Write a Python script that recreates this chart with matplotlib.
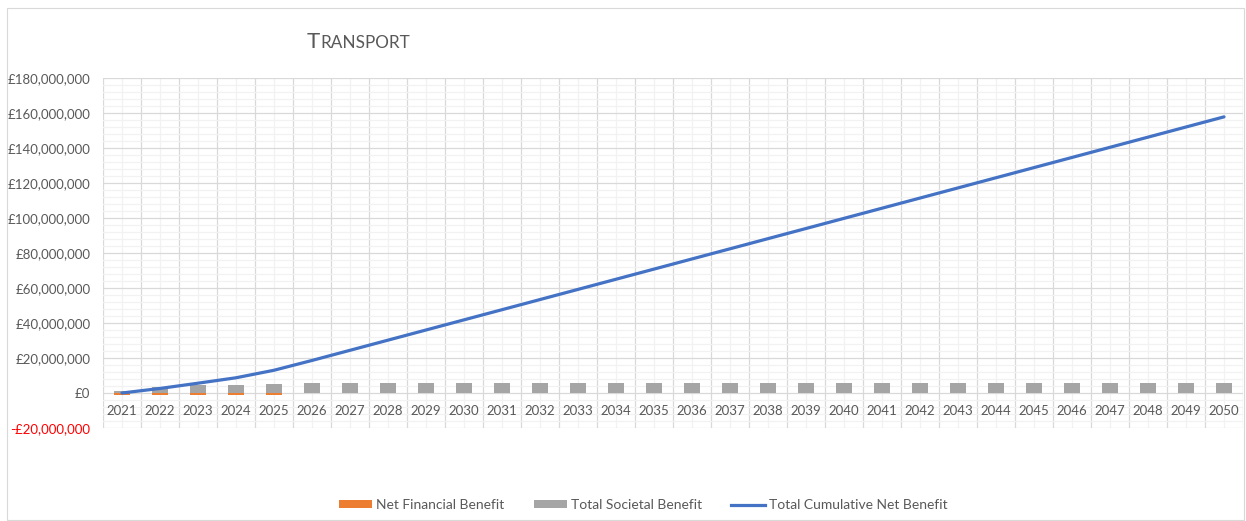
import matplotlib
matplotlib.use("Agg")
import matplotlib.pyplot as plt
from matplotlib.patches import Patch, Rectangle
from matplotlib.lines import Line2D
from matplotlib.ticker import FuncFormatter, MultipleLocator, FixedLocator

plt.rcParams['font.family'] = ['Lato', 'DejaVu Sans']

years = [str(y) for y in range(2021, 2051)]
net_financial = [-1.2e6, -1.2e6, -1.2e6, -1.2e6, -1.2e6] + [0.0] * 25
total_societal = [1.0e6, 3.2e6, 4.6e6, 4.4e6, 5.3e6] + [5.5e6] * 25
cumulative = [0.0, 2.6e6, 5.6e6, 8.7e6, 13.0e6,
              18.6e6, 24.4e6, 30.2e6, 36.0e6, 41.8e6,
              47.6e6, 53.4e6, 59.2e6, 65.0e6, 70.8e6,
              76.6e6, 82.4e6, 88.2e6, 94.0e6, 99.8e6,
              105.6e6, 111.4e6, 117.2e6, 123.0e6, 128.8e6,
              134.6e6, 140.4e6, 146.2e6, 152.0e6, 157.8e6]
series_names = ["Net Financial Benefit", "Total Societal Benefit", "Total Cumulative Net Benefit"]
title_text = "Transport"

ORANGE = "#ED7D31"
GREY = "#A5A5A5"
BLUE = "#4472C4"
TXT = "#595959"
W, H = 1246, 521

fig = plt.figure(figsize=(W / 100, H / 100), dpi=100)
fig.patch.set_facecolor("white")
fig.add_artist(Rectangle((7 / W, 1 / H), 1237 / W, 512 / H, transform=fig.transFigure,
                         fill=False, edgecolor="#D9D9D9", linewidth=0.8))

ax = fig.add_axes([103 / W, 1 - 428 / H, 1140 / W, 350 / H])
x = list(range(len(years)))

ax.bar(x, net_financial, width=0.4, color=ORANGE, zorder=3)
ax.bar(x, total_societal, width=0.4, color=GREY, zorder=3)
ax.plot(x, cumulative, color=BLUE, linewidth=2.3, solid_capstyle='round', zorder=4)

ax.set_xlim(-0.5, len(years) - 0.5)
ax.set_ylim(-20e6, 180e6)

ax.xaxis.set_major_locator(FixedLocator([i - 0.5 for i in range(len(years) + 1)]))
ax.xaxis.set_minor_locator(FixedLocator(x))
ax.set_xticklabels([])
ax.yaxis.set_major_locator(MultipleLocator(20e6))
ax.yaxis.set_minor_locator(MultipleLocator(4e6))

def fmt(v, pos):
    v = int(round(v))
    if v < 0:
        return "-£{:,}".format(-v)
    return "£{:,}".format(v)

ax.yaxis.set_major_formatter(FuncFormatter(fmt))
ax.tick_params(axis='both', which='both', length=0)
ax.tick_params(axis='y', labelsize=9.5, labelcolor=TXT, pad=9)
fig.canvas.draw()
for lab in ax.get_yticklabels():
    if lab.get_text().startswith("-"):
        lab.set_color("#FF0000")

ax.grid(True, which='major', color="#D9D9D9", linewidth=0.9)
ax.grid(True, which='minor', color="#F2F2F2", linewidth=0.9)
ax.set_axisbelow(True)
for s in ax.spines.values():
    s.set_visible(False)

for i, y in enumerate(years):
    ax.annotate(y, xy=(i, 0), xytext=(0, -8.5), textcoords='offset points',
                ha='center', va='top', fontsize=9.5, color=TXT, zorder=5)

# Title in small caps
base_y = 1 - 48.5 / H
t1 = fig.text(307 / W, base_y, title_text[0].upper(), fontsize=16, color=TXT,
              ha='left', va='baseline')
fig.canvas.draw()
bb = t1.get_window_extent(renderer=fig.canvas.get_renderer())
fig.text(bb.x1 / W + 0.5 / W, base_y, title_text[1:].upper(), fontsize=12.3, color=TXT,
         ha='left', va='baseline')

handles = [Patch(facecolor=ORANGE, edgecolor='none'),
           Patch(facecolor=GREY, edgecolor='none'),
           Line2D([0], [0], color=BLUE, linewidth=2.3)]
fig.legend(handles, series_names, loc='center', bbox_to_anchor=(643 / W, 1 - 505 / H),
           ncol=3, frameon=False, fontsize=10, handlelength=2.4, handleheight=0.5,
           handletextpad=0.3, columnspacing=2.1, labelcolor=TXT)

fig.savefig("out.png", dpi=100, facecolor="white")
